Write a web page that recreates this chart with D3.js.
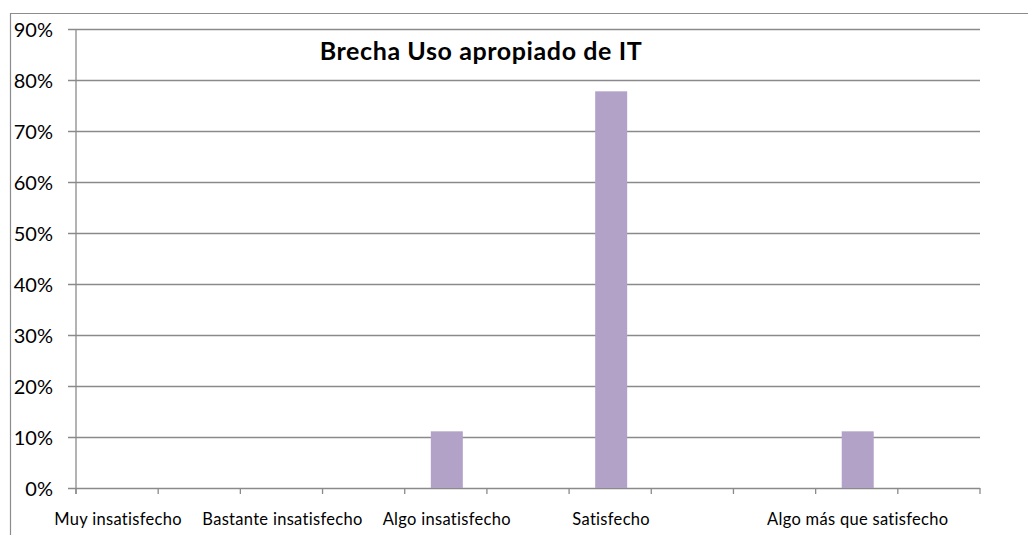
<!DOCTYPE html>
<html>
<head>
<meta charset="utf-8">
<script src="https://cdn.jsdelivr.net/npm/d3@7"></script>
<style>
  body { margin: 0; background: #fff; }
  svg { display: block; }
</style>
</head>
<body>
<div id="chart"></div>
<script>
// 11 category slots; Excel only printed some of the labels
const categories = [
    "Muy insatisfecho", "", "Bastante insatisfecho", "", "Algo insatisfecho",
    "", "Satisfecho", "", "", "Algo más que satisfecho", ""
];
const values = [0, 0, 0, 0, 1 / 9, 0, 7 / 9, 0, 0, 1 / 9, 0];
const yTicks = [0, 0.1, 0.2, 0.3, 0.4, 0.5, 0.6, 0.7, 0.8, 0.9];
const title = "Brecha Uso apropiado de IT";

const W = 1028, H = 535;
const plot = { left: 76, right: 980, top: 29, bottom: 488 };
const FONT = "Lato, 'Open Sans', sans-serif";

const svg = d3.select("#chart").append("svg")
    .attr("width", W).attr("height", H)
    .attr("viewBox", `0 0 ${W} ${H}`);

// outer chart border (cropped on right and bottom)
svg.append("path")
    .attr("d", `M10.5,${H} V13.5 H${W}`)
    .attr("fill", "none").attr("stroke", "#8c8c8c").attr("stroke-width", 1.2);

const x = d3.scaleBand()
    .domain(d3.range(categories.length))
    .range([plot.left, plot.right])
    .paddingInner(0).paddingOuter(0);

const y = d3.scaleLinear()
    .domain([0, 0.9])
    .range([plot.bottom, plot.top]);

// gridlines + y axis
const yAxis = d3.axisLeft(y)
    .tickValues(yTicks)
    .tickFormat(d3.format(".0%"))
    .tickSize(-(plot.right - plot.left))
    .tickPadding(0);

const gy = svg.append("g")
    .attr("transform", `translate(${plot.left},0)`)
    .call(yAxis);
gy.select(".domain").remove();
gy.selectAll(".tick line")
    .attr("x1", -8)
    .attr("stroke", "#8a8a8a").attr("stroke-width", 1.3);
gy.selectAll(".tick text")
    .attr("x", 53 - plot.left)
    .attr("dy", "0.36em")
    .style("font-family", FONT).style("font-size", "20px")
    .attr("fill", "#000");

// bars
const bw = 32;
svg.append("g").selectAll("rect")
    .data(values.map((v, i) => ({ v, i })).filter(d => d.v > 0))
    .join("rect")
    .attr("x", d => x(d.i) + x.bandwidth() / 2 - bw / 2 + 1)
    .attr("y", d => y(d.v))
    .attr("width", bw)
    .attr("height", d => y(0) - y(d.v))
    .attr("fill", "#b3a2c7");

// y axis line
svg.append("line")
    .attr("x1", plot.left).attr("x2", plot.left)
    .attr("y1", plot.top).attr("y2", plot.bottom + 6)
    .attr("stroke", "#8a8a8a").attr("stroke-width", 1.3);

// x axis ticks (between categories)
const edges = d3.range(categories.length + 1).map(i =>
    i < categories.length ? x(i) : x(categories.length - 1) + x.bandwidth());
svg.append("g").selectAll("line")
    .data(edges)
    .join("line")
    .attr("x1", d => d).attr("x2", d => d)
    .attr("y1", plot.bottom).attr("y2", plot.bottom + 6)
    .attr("stroke", "#8a8a8a").attr("stroke-width", 1.3);

// x labels
svg.append("g").selectAll("text")
    .data(categories.map((c, i) => ({ c, i })).filter(d => d.c))
    .join("text")
    .attr("x", d => x(d.i) + x.bandwidth() / 2 + 1)
    .attr("y", 525)
    .attr("text-anchor", "middle")
    .style("font-family", FONT).style("font-size", "16.5px")
    .style("letter-spacing", "0.3px")
    .attr("fill", "#000")
    .text(d => d.c);

// title
svg.append("text")
    .attr("x", 481).attr("y", 60)
    .attr("text-anchor", "middle")
    .style("font-family", FONT).style("font-size", "25px")
    .style("letter-spacing", "0.6px")
    .style("font-weight", "bold")
    .attr("fill", "#000")
    .text(title);
</script>
</body>
</html>
